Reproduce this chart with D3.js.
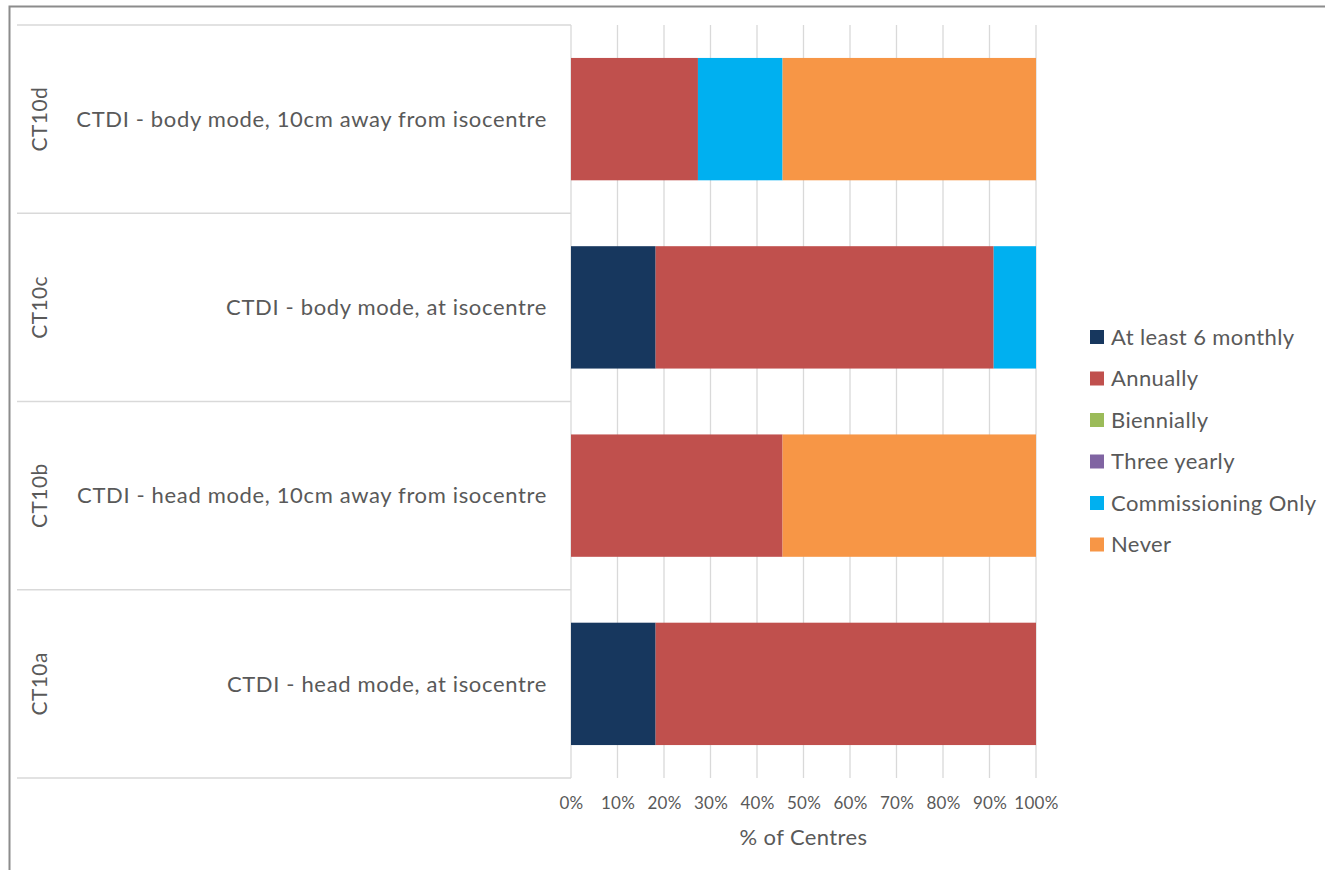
<!DOCTYPE html>
<html>
<head>
<meta charset="utf-8">
<script src="https://cdn.jsdelivr.net/npm/d3@7"></script>
<style>
  body { margin: 0; background: #fff; }
  svg text { font-family: Lato, "Open Sans", sans-serif; fill: #595959; }
</style>
</head>
<body>
<svg id="chart" width="1325" height="870"></svg>
<script>
// categories, bottom to top as drawn
const groups = ["CT10a", "CT10b", "CT10c", "CT10d"];
const labels = [
    "CTDI - head mode, at isocentre",
    "CTDI - head mode, 10cm away from isocentre",
    "CTDI - body mode, at isocentre",
    "CTDI - body mode, 10cm away from isocentre"
];
const seriesNames = ["At least 6 monthly", "Annually", "Biennially", "Three yearly", "Commissioning Only", "Never"];
const colors = ["#17375E", "#C0504D", "#9BBB59", "#8064A2", "#00B0F0", "#F79646"];

// % of centres per series, in the same order as groups
const atLeast6Monthly = [18.2, 0, 18.2, 0];
const annually = [81.8, 45.5, 72.7, 27.3];
const biennially = [0, 0, 0, 0];
const threeYearly = [0, 0, 0, 0];
const commissioningOnly = [0, 0, 9.1, 18.2];
const never = [0, 54.5, 0, 54.5];

const ticks = [0, 10, 20, 30, 40, 50, 60, 70, 80, 90, 100];

const seriesValues = [atLeast6Monthly, annually, biennially, threeYearly, commissioningOnly, never];
const rows = groups.map((g, i) => {
    const r = { group: g, label: labels[i] };
    seriesNames.forEach((s, j) => r[s] = seriesValues[j][i]);
    return r;
});

const svg = d3.select('#chart');
const margin = { top: 25, left: 571, right: 289, bottom: 92 };
const innerWidth = 1325 - margin.left - margin.right;
const innerHeight = 870 - margin.top - margin.bottom;

// outer frame (top and left edges only are in view)
svg.append('path')
    .attr('d', 'M9.5,870V6.5H1325')
    .attr('fill', 'none')
    .attr('stroke', '#8c8c8c')
    .attr('stroke-width', 2);

const g = svg.append('g')
    .attr('transform', `translate(${margin.left}, ${margin.top})`);

const x = d3.scaleLinear().domain([0, 100]).range([0, innerWidth]);
const y = d3.scaleBand()
    .domain(groups.slice().reverse())
    .range([0, innerHeight])
    .paddingInner(0.35)
    .paddingOuter(0.175);

// band frame for category table
const band = d3.scaleBand()
    .domain(groups.slice().reverse())
    .range([0, innerHeight]);

// gridlines
g.append('g')
    .selectAll('line')
    .data(ticks)
    .enter()
    .append('line')
    .attr('x1', d => x(d)).attr('x2', d => x(d))
    .attr('y1', 0).attr('y2', innerHeight)
    .attr('stroke', '#d9d9d9')
    .attr('stroke-width', 1.3);

// horizontal category separators
const seps = groups.map(d => band(d)).concat([innerHeight]);
g.append('g')
    .selectAll('line')
    .data(seps)
    .enter()
    .append('line')
    .attr('x1', 17 - margin.left).attr('x2', 0)
    .attr('y1', d => d).attr('y2', d => d)
    .attr('stroke', '#d9d9d9')
    .attr('stroke-width', 1.3);

// stacked bars
const stack = d3.stack().keys(seriesNames);
const stacked = stack(rows);

g.append('g')
    .selectAll('g')
    .data(stacked)
    .enter()
    .append('g')
    .attr('fill', (d, i) => colors[i])
    .selectAll('rect')
    .data(d => d)
    .enter()
    .append('rect')
    .attr('x', d => x(d[0]))
    .attr('y', d => y(d.data.group))
    .attr('width', d => x(d[1]) - x(d[0]))
    .attr('height', y.bandwidth());

// x axis tick labels
const xAxis = g.append('g')
    .attr('transform', `translate(0, ${innerHeight})`)
    .call(d3.axisBottom(x).tickValues(ticks).tickFormat(d => d + '%').tickSize(0).tickPadding(19));
xAxis.select('.domain').remove();
xAxis.selectAll('text')
    .style('font-size', '17px')
    .style('font-family', 'Lato, sans-serif')
    .style('letter-spacing', '0.3px')
    .attr('fill', '#595959');

g.append('text')
    .attr('x', innerWidth / 2)
    .attr('y', innerHeight + 67)
    .attr('text-anchor', 'middle')
    .style('font-size', '22px')
    .style('letter-spacing', '0.4px')
    .text('% of Centres');

// category labels
rows.forEach(r => {
    const cy = band(r.group) + band.bandwidth() / 2;
    g.append('text')
        .attr('transform', `translate(${40 - margin.left}, ${cy}) rotate(-90)`)
        .attr('text-anchor', 'middle')
        .attr('dy', '0.35em')
        .style('font-size', '21px')
        .style('letter-spacing', '0.4px')
        .text(r.group);
    g.append('text')
        .attr('x', -24)
        .attr('y', cy)
        .attr('dy', '0.35em')
        .attr('text-anchor', 'end')
        .style('font-size', '22px')
        .style('letter-spacing', '0.65px')
        .text(r.label);
});

// legend
const legend = svg.append('g')
    .attr('transform', 'translate(1090, 337)');
seriesNames.forEach((s, i) => {
    const item = legend.append('g').attr('transform', `translate(0, ${i * 41.5})`);
    item.append('rect')
        .attr('x', 0).attr('y', -7)
        .attr('width', 14).attr('height', 14)
        .attr('fill', colors[i]);
    item.append('text')
        .attr('x', 21)
        .attr('dy', '0.35em')
        .style('font-size', '22px')
        .style('letter-spacing', '0.4px')
        .text(s);
});
</script>
</body>
</html>
